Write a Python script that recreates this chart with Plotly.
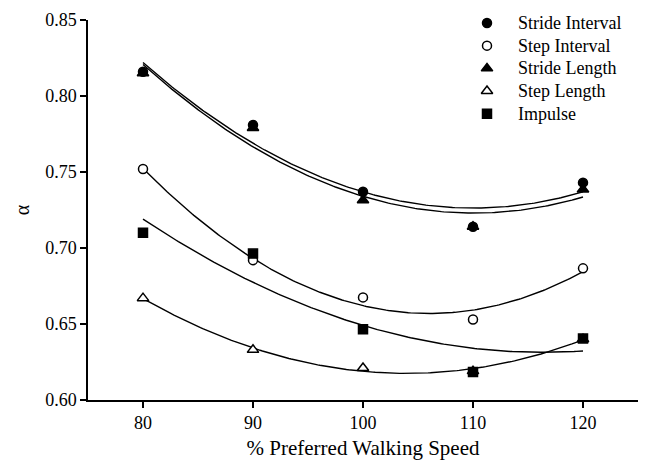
import numpy as np
import plotly.graph_objects as go

speed = [80, 90, 100, 110, 120]
stride_interval = [0.816, 0.781, 0.737, 0.714, 0.743]
step_interval = [0.752, 0.692, 0.6675, 0.653, 0.6866]
stride_length = [0.815, 0.779, 0.7314, 0.714, 0.7385]
step_length = [0.667, 0.633, 0.621, 0.619, 0.640]
impulse = [0.710, 0.6963, 0.6466, 0.6184, 0.6405]

x_ticks = [80, 90, 100, 110, 120]
y_ticks = [0.60, 0.65, 0.70, 0.75, 0.80, 0.85]

series_names = ["Stride Interval", "Step Interval", "Stride Length", "Step Length", "Impulse"]
series_values = [stride_interval, step_interval, stride_length, step_length, impulse]
series_symbols = ["circle", "circle", "triangle-up", "triangle-up", "square"]
series_fills = ["black", "white", "black", "white", "black"]

FONT = "Times New Roman, Liberation Serif, DejaVu Serif, serif"
fig = go.Figure()

# plot area in pixels (used by an invisible overlay axis for the key)
L, R, T, B = 88, 638, 20, 405

xs = np.linspace(min(speed), max(speed), 200)
# quadratic regression curves
for vals in series_values:
    coef = np.polyfit(speed, vals, 2)
    fig.add_trace(go.Scatter(x=xs, y=np.polyval(coef, xs), mode="lines",
                             line=dict(color="black", width=1.4),
                             showlegend=False, hoverinfo="skip"))

def marker(sym, fill):
    return dict(symbol=sym, size=10 if "triangle" in sym else 9,
                color=fill, line=dict(color="black", width=1.5))

for name, vals, sym, fill in zip(series_names, series_values, series_symbols, series_fills):
    fig.add_trace(go.Scatter(x=speed, y=vals, mode="markers", name=name,
                             marker=marker(sym, fill), showlegend=False))

# key (legend) drawn on an overlay axis measured in pixels
key_x, text_x, key_y0, key_dy = 487, 516, 23, 23
for i, (name, sym, fill) in enumerate(zip(series_names, series_symbols, series_fills)):
    fig.add_trace(go.Scatter(x=[key_x], y=[key_y0 + i * key_dy], mode="markers",
                             marker=marker(sym, fill), xaxis="x2", yaxis="y2",
                             cliponaxis=False, showlegend=False, hoverinfo="skip"))
    fig.add_annotation(x=text_x, y=key_y0 + i * key_dy, xref="x2", yref="y2",
                       text=name, showarrow=False, xanchor="left", yanchor="middle",
                       font=dict(family=FONT, size=18, color="black"))

fig.update_layout(
    width=645, height=463,
    margin=dict(l=L, r=645 - R, t=T, b=463 - B),
    paper_bgcolor="white", plot_bgcolor="white",
    font=dict(family=FONT, size=18, color="black"),
    showlegend=False,
    xaxis=dict(range=[75, 125], tickvals=x_ticks, showgrid=False, zeroline=False,
               showline=True, linecolor="black", linewidth=1.5,
               ticks="outside", ticklen=6, tickwidth=1.5, tickcolor="black",
               tickfont=dict(family=FONT, size=18),
               title=dict(text="% Preferred Walking Speed", font=dict(family=FONT, size=21),
                          standoff=8)),
    yaxis=dict(range=[0.60, 0.85], tickvals=y_ticks, tickformat=".2f",
               showgrid=False, zeroline=False,
               showline=True, linecolor="black", linewidth=1.5,
               ticks="outside", ticklen=6, tickwidth=1.5, tickcolor="black",
               tickfont=dict(family=FONT, size=18),
               title=dict(text="α", font=dict(family=FONT, size=20), standoff=10)),
    xaxis2=dict(overlaying="x", range=[L, R], visible=False, fixedrange=True),
    yaxis2=dict(overlaying="y", range=[B, T], visible=False, fixedrange=True),
)

fig.write_html("out.html")
